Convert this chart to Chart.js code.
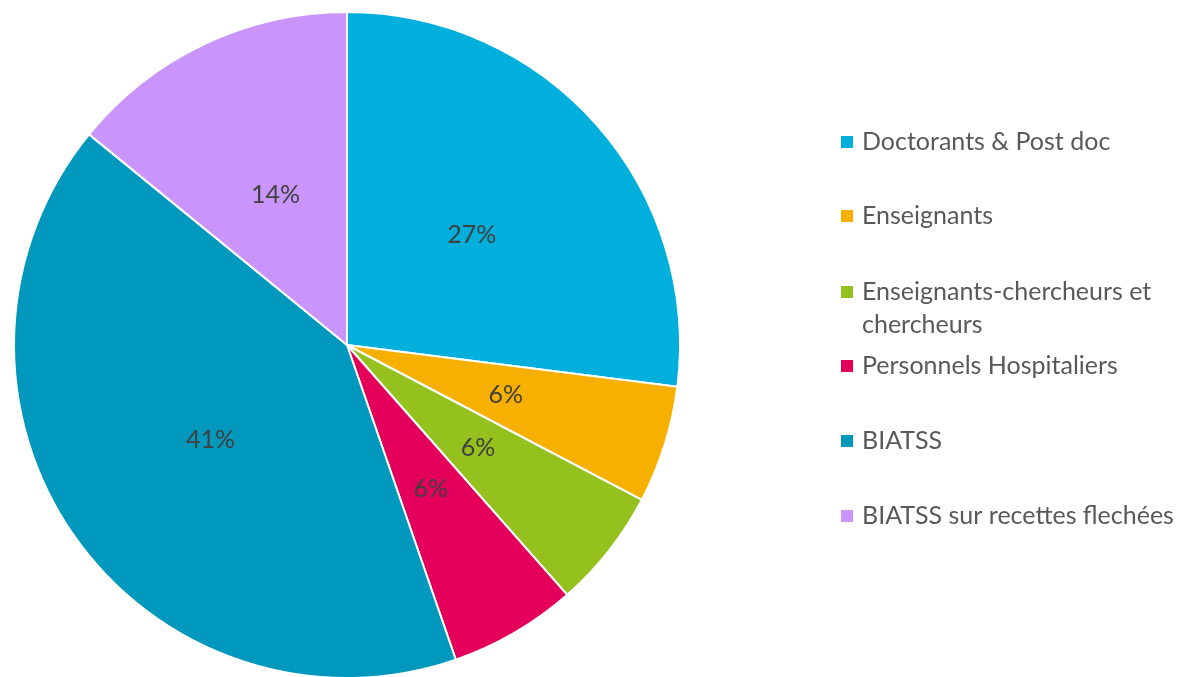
<!DOCTYPE html>
<html>
<head>
<meta charset="utf-8">
<script src="https://cdn.jsdelivr.net/npm/chart.js@4"></script>
<style>
  html, body { margin: 0; padding: 0; background: #fff; }
  #wrap { width: 1183px; height: 677px; overflow: hidden; position: relative; }
  #wrap canvas { display: block; }
</style>
</head>
<body>
<div id="wrap"><canvas id="chart" width="1183" height="690"></canvas></div>
<script>
const labels = [
  'Doctorants & Post doc',
  'Enseignants',
  'Enseignants-chercheurs et chercheurs',
  'Personnels Hospitaliers',
  'BIATSS',
  'BIATSS sur recettes flechées',
];
// legend lines (wrapped the way the original legend wraps them)
const legendLines = [
  ['Doctorants & Post doc'],
  ['Enseignants'],
  ['Enseignants-chercheurs et', 'chercheurs'],
  ['Personnels Hospitaliers'],
  ['BIATSS'],
  ['BIATSS sur recettes flechées'],
];
const shares = [27.0, 5.7, 5.8, 6.2, 41.2, 14.1];

const colors = ['#00afdb', '#f8b000', '#95c11f', '#e4005a', '#0098bc', '#c995fb'];

const FONT = '25px Lato';

const sliceLabels = {
  id: 'sliceLabels',
  afterDatasetsDraw(chart) {
    const ctx = chart.ctx;
    const meta = chart.getDatasetMeta(0);
    const total = shares.reduce((a, b) => a + b, 0);
    ctx.save();
    ctx.font = FONT;
    ctx.fillStyle = '#404040';
    ctx.textAlign = 'center';
    ctx.textBaseline = 'middle';
    meta.data.forEach((arc, i) => {
      const mid = (arc.startAngle + arc.endAngle) / 2;
      const r = arc.outerRadius * 0.5;
      const x = arc.x + Math.cos(mid) * r;
      const y = arc.y + Math.sin(mid) * r;
      ctx.fillText(Math.round(shares[i] / total * 100) + '%', x, y);
    });
    ctx.restore();
  },
};

// legend on the right, spaced like the original
const sideLegend = {
  id: 'sideLegend',
  afterDraw(chart) {
    const ctx = chart.ctx;
    const tops = [142, 216, 292, 366, 441, 516];
    const lineH = 33;
    ctx.save();
    ctx.font = FONT;
    ctx.textBaseline = 'middle';
    ctx.textAlign = 'left';
    legendLines.forEach((lines, i) => {
      const y = tops[i];
      ctx.fillStyle = colors[i];
      ctx.fillRect(841, y - 6, 12, 12);
      ctx.fillStyle = '#595959';
      lines.forEach((t, j) => ctx.fillText(t, 862, y + j * lineH));
    });
    ctx.restore();
  },
};

new Chart(document.getElementById('chart'), {
  type: 'pie',
  data: {
    labels: labels,
    datasets: [{
      data: shares,
      backgroundColor: colors,
      borderColor: '#ffffff',
      borderWidth: 2,
    }],
  },
  options: {
    responsive: false,
    animation: false,
    layout: { padding: { left: 13, top: 11, right: 502, bottom: 11 } },
    plugins: {
      legend: { display: false },
      tooltip: { enabled: false },
    },
  },
  plugins: [sliceLabels, sideLegend],
});
</script>
</body>
</html>
